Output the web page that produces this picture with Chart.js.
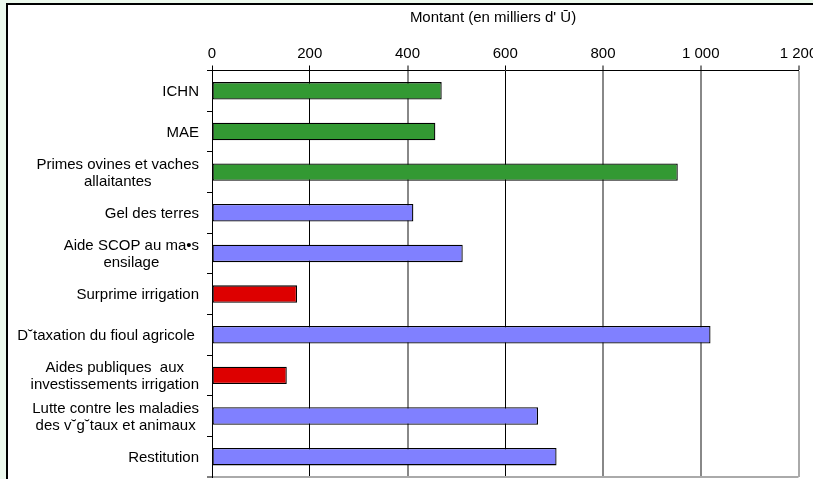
<!DOCTYPE html>
<html><head><meta charset="utf-8">
<script src="https://cdn.jsdelivr.net/npm/chart.js@4"></script>
<style>
html,body{margin:0;padding:0;overflow:hidden;background:#ecf9ed;width:813px;height:479px;}
#frame{position:absolute;left:6px;top:3px;width:1000px;height:1000px;border:2px solid #000;background:#fff;}
#c{position:absolute;left:0;top:0;}
</style></head><body>
<div id="frame"></div>
<canvas id="c" width="813" height="479"></canvas>
<script>
const categories = [
  "ICHN",
  "MAE",
  ["Primes ovines et vaches", "allaitantes"],
  "Gel des terres",
  ["Aide SCOP au ma•s", "ensilage"],
  "Surprime irrigation",
  "D˘taxation du fioul agricole ",
  ["Aides publiques  aux", "investissements irrigation"],
  ["Lutte contre les maladies", "des v˘g˘taux et animaux"],
  "Restitution"
];
const values = [470, 457, 953, 412, 513, 174, 1020, 153, 667, 705];
const barGroups = ["A", "A", "A", "B", "B", "C", "B", "C", "B", "B"];
const xTickLabels = ["0", "200", "400", "600", "800", "1 000", "1 200"];
const axisTitle = "Montant (en milliers d' Ū)";

const groupColors = { A: "#339933", B: "#8080ff", C: "#dd0000" };
const FONT = '"Liberation Sans", Arial, sans-serif';
const gridColors = ["#000", "#000", "#888", "#000", "#888", "#888", "#aaa"];
const gridWidths = [1, 1, 2, 1, 2, 2, 2];

const labelPlugin = {
  id: "catLabels",
  afterDraw(chart) {
    const ctx = chart.ctx, ys = chart.scales.y;
    const right = 199, lh = 17;
    ctx.save();
    ctx.font = "15px " + FONT;
    ctx.fillStyle = "#000";
    ctx.textBaseline = "middle";
    ctx.textAlign = "center";
    categories.forEach((lab, i) => {
      const lines = Array.isArray(lab) ? lab : [lab];
      const w = Math.max(...lines.map(l => ctx.measureText(l).width));
      const cx = right - w / 2;
      const cy = ys.getPixelForValue(i);
      lines.forEach((l, j) => ctx.fillText(l, cx, cy + (j - (lines.length - 1) / 2) * lh + 1));
    });
    ctx.fillText(axisTitle, 493, 18);
    ctx.restore();
  }
};

new Chart(document.getElementById("c"), {
  type: "bar",
  data: {
    labels: categories,
    datasets: [{
      data: values,
      backgroundColor: barGroups.map(g => groupColors[g]),
      borderColor: "#000",
      borderWidth: 1.3,
      borderSkipped: false,
      barPercentage: 0.43,
      categoryPercentage: 1
    }]
  },
  options: {
    indexAxis: "y",
    responsive: false,
    animation: false,
    devicePixelRatio: 1,
    layout: { padding: { left: 0, top: 0, right: 14.5, bottom: 2 } },
    plugins: { legend: { display: false }, tooltip: { enabled: false } },
    scales: {
      x: {
        position: "top",
        min: 0, max: 1200,
        ticks: {
          stepSize: 200, autoSkip: false, maxRotation: 0, padding: 3,
          color: "#000", font: { family: FONT, size: 15 },
          callback: (v, i) => xTickLabels[i]
        },
        grid: {
          color: c => gridColors[c.index] || "#000",
          lineWidth: c => gridWidths[c.index] || 1,
          tickLength: 5, tickColor: "#000", tickWidth: 1
        },
        border: { display: true, color: "#000", width: 1 },
        afterFit(s) { s.height = 70.5; s.paddingLeft = 0; s.paddingRight = 0; }
      },
      y: {
        ticks: { display: false },
        grid: {
          offset: true,
          drawOnChartArea: true,
          color: c => c.type === "scale" ? "#aaa" : "rgba(0,0,0,0)",
          lineWidth: c => c.type === "scale" ? 2 : 1,
          tickLength: 5, tickColor: "#000", tickWidth: 1
        },
        border: { display: true, color: "#000", width: 1 },
        afterFit(s) { s.width = 212; s.paddingTop = 0; s.paddingBottom = 0; }
      }
    }
  },
  plugins: [labelPlugin]
});
</script>
</body></html>
